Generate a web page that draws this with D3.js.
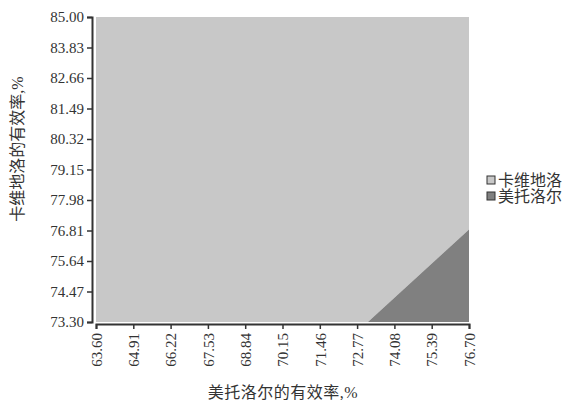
<!DOCTYPE html>
<html>
<head>
<meta charset="utf-8">
<script src="https://cdn.jsdelivr.net/npm/d3@7"></script>
<style>
    body { margin: 0; background: #fff; }
    text { font-family: "Liberation Serif", "Noto Sans CJK SC", serif; fill: #333; }
</style>
</head>
<body>
<svg id="chart" width="563" height="400"></svg>
<script>
// tick values
const xTicks = [63.60, 64.91, 66.22, 67.53, 68.84, 70.15, 71.46, 72.77, 74.08, 75.39, 76.70];
const yTicks = [73.30, 74.47, 75.64, 76.81, 77.98, 79.15, 80.32, 81.49, 82.66, 83.83, 85.00];

// decision regions: [metoprolol efficacy, carvedilol efficacy]
const carvedilolRegion = [[63.60, 73.30], [73.15, 73.30], [76.70, 76.85], [76.70, 85.00], [63.60, 85.00]];
const metoprololRegion = [[73.15, 73.30], [76.70, 73.30], [76.70, 76.85]];

const series = [
    { name: "卡维地洛", points: carvedilolRegion, color: "#c8c8c8" },
    { name: "美托洛尔", points: metoprololRegion, color: "#808080" }
];

const svg = d3.select("#chart");

const x = d3.scaleLinear().domain([63.60, 76.70]).range([96, 469]);
const y = d3.scaleLinear().domain([73.30, 85.00]).range([322, 17]);

const line = d3.line()
    .x(d => x(d[0]))
    .y(d => y(d[1]));

svg.append("g")
    .selectAll("path")
    .data(series)
    .join("path")
    .attr("d", d => line(d.points) + "Z")
    .attr("fill", d => d.color);

// x axis
const xAxis = svg.append("g")
    .attr("transform", "translate(0,324)")
    .call(d3.axisBottom(x).tickValues(xTicks).tickFormat(d3.format(".2f")).tickSize(5).tickSizeOuter(5));
xAxis.select(".domain").attr("stroke", "#333").attr("stroke-width", 2);
xAxis.selectAll(".tick line").attr("stroke", "#333").attr("stroke-width", 1.5);
xAxis.selectAll(".tick text")
    .attr("transform", "rotate(-90)")
    .attr("x", -9)
    .attr("y", 0)
    .attr("dy", "0.35em")
    .attr("text-anchor", "end")
    .style("font-size", "15px")
    .style("font-family", "'Liberation Serif', serif");

// y axis
const yAxis = svg.append("g")
    .attr("transform", "translate(92,0)")
    .call(d3.axisLeft(y).tickValues(yTicks).tickFormat(d3.format(".2f")).tickSize(5).tickSizeOuter(5));
yAxis.select(".domain").attr("stroke", "#333").attr("stroke-width", 2);
yAxis.selectAll(".tick line").attr("stroke", "#333").attr("stroke-width", 1.5);
yAxis.selectAll(".tick text")
    .attr("x", -8)
    .style("font-size", "15px")
    .style("font-family", "'Liberation Serif', serif");

// axis titles
svg.append("text")
    .attr("x", 283)
    .attr("y", 392)
    .attr("dy", "0.35em")
    .attr("text-anchor", "middle")
    .style("font-size", "16px")
    .style("letter-spacing", "0.5px")
    .text("美托洛尔的有效率,%");

svg.append("text")
    .attr("transform", "translate(17,149) rotate(-90)")
    .attr("dy", "0.35em")
    .attr("text-anchor", "middle")
    .style("font-size", "16px")
    .text("卡维地洛的有效率,%");

// legend
const legend = svg.append("g")
    .attr("transform", "translate(487,176)")
    .selectAll("g")
    .data(series)
    .join("g")
    .attr("transform", (d, i) => `translate(0,${i * 16})`);

legend.append("rect")
    .attr("width", 8)
    .attr("height", 8)
    .attr("fill", d => d.color)
    .attr("stroke", "#333")
    .attr("stroke-width", 1);

legend.append("text")
    .attr("x", 11)
    .attr("y", 4)
    .attr("dy", "0.35em")
    .style("font-size", "16px")
    .text(d => d.name);
</script>
</body>
</html>
